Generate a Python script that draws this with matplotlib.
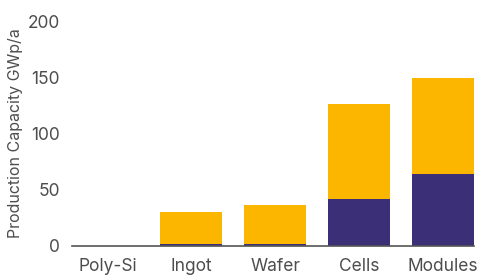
import matplotlib
matplotlib.use("Agg")
import matplotlib.pyplot as plt
import numpy as np

plt.rcParams['font.family'] = ['Inter', 'DejaVu Sans']

steps = ["Poly-Si", "Ingot", "Wafer", "Cells", "Modules"]
lower = [0, 1.5, 1.5, 42, 64]      # navy part
upper = [0, 29, 35, 84, 85]        # yellow part on top

navy = "#3b2f78"
yellow = "#fdb600"
txt = "#4d4d4d"

fig = plt.figure(figsize=(4.84, 2.77), dpi=100)
ax = fig.add_axes([0.149, 0.112, 0.83, 0.812])

x = np.arange(len(steps))
ax.bar(x, lower, width=0.74, color=navy)
ax.bar(x, upper, width=0.74, bottom=lower, color=yellow)

ax.set_xlim(-0.42, 4.37)
ax.set_ylim(0, 200)
ax.set_yticks([0, 50, 100, 150, 200])
ax.set_xticks(x)
ax.set_xticklabels(steps)
for s in ["top", "right", "left"]:
    ax.spines[s].set_visible(False)
ax.spines["bottom"].set_color("#555555")
ax.spines["bottom"].set_linewidth(1.2)
ax.tick_params(length=0, labelsize=12.5, colors=txt)
ax.tick_params(axis="y", pad=9)
ax.tick_params(axis="x", pad=9)
ax.set_ylabel("Production Capacity GWp/a", fontsize=11.5, color=txt, labelpad=3)

fig.savefig("out.png", dpi=100)
